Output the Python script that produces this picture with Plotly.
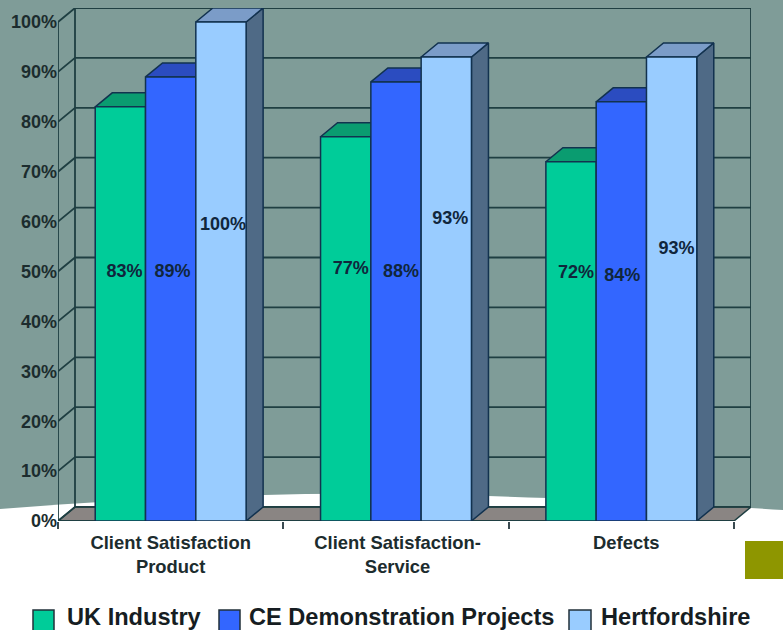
import plotly.graph_objects as go

categories = ["Client Satisfaction<br>Product", "Client Satisfaction-<br>Service", "Defects"]
uk_industry = [83, 77, 72]
ce_projects = [89, 88, 84]
hertfordshire = [100, 93, 93]
series_names = ["UK Industry", "CE Demonstration Projects", "Hertfordshire"]
y_ticks = list(range(0, 101, 10))
y_labels = [f"{v}%" for v in y_ticks]
# height (in %) at which each data label sits, per series
label_levels = [[49.8, 50.4, 49.6], [49.8, 49.8, 49.0], [59.2, 60.4, 54.4]]
# horizontal nudge of each data label, in category units
label_nudges = [[0.018, 0.022, 0.022], [0.008, 0.022, 0.004], [0.009, 0.018, 0.022]]
# horizontal nudge of each category label, in category units
category_nudges = [0.0, 0.007, 0.022]

W, H = 783, 630
LEFT, RIGHT, BOTTOM, TOP = 58, 751, 521, 8
DX = 17 / 225.33          # depth of the 3-D effect, category units
DY = 14 / 498 * 100       # depth of the 3-D effect, % units
BAR_W = 50.3 / 225.33
FONT = "Liberation Sans"
INK = "#1c2c2e"
EDGE = "#12324f"
WALL = "#1f3f42"
series = [uk_industry, ce_projects, hertfordshire]
front = ["#00cc99", "#3366ff", "#99ccff"]
top_col = ["#0a9c70", "#2b4cc0", "#7b9cc8"]
side_col = ["#008f6b", "#2447b3", "#4f6a86"]
n = len(categories)
xs = list(range(n))
xl, xr = -0.5, n - 0.5

px = lambda x: x / W
py = lambda y: 1 - y / H

fig = go.Figure()

# floor
fig.add_trace(go.Scatter(
    x=[xl, xl + DX, xr + DX, xr, xl], y=[0, DY, DY, 0, 0], mode="lines", fill="toself",
    fillcolor="#8a8583", line=dict(color=WALL, width=1.5), hoverinfo="skip", cliponaxis=False))

# walls and gridlines
wx, wy = [], []
for v in y_ticks:
    wx += [xl, xl + DX, xr + DX, None]
    wy += [v, v + DY, v + DY, None]
wx += [xl, xl, None, xl + DX, xl + DX, None, xr + DX, xr + DX, None, xl, xr, None]
wy += [0, 100, None, DY, 100 + DY, None, DY, 100 + DY, None, 0, 0, None]
fig.add_trace(go.Scatter(x=wx, y=wy, mode="lines", line=dict(color=WALL, width=1.8),
                         hoverinfo="skip", cliponaxis=False))

# top and side faces of the bars, derived from the values
for s, vals in enumerate(series):
    tx, ty, sx, sy = [], [], [], []
    for i, v in zip(xs, vals):
        x0 = i + (s - 1.5) * BAR_W
        x1 = x0 + BAR_W
        tx += [x0, x1, x1 + DX, x0 + DX, x0, None]
        ty += [v, v, v + DY, v + DY, v, None]
        sx += [x1, x1 + DX, x1 + DX, x1, x1, None]
        sy += [0, DY, v + DY, v, 0, None]
    fig.add_trace(go.Scatter(x=sx, y=sy, mode="lines", fill="toself", fillcolor=side_col[s],
                             line=dict(color=EDGE, width=1.5), hoverinfo="skip", cliponaxis=False))
    fig.add_trace(go.Scatter(x=tx, y=ty, mode="lines", fill="toself", fillcolor=top_col[s],
                             line=dict(color=EDGE, width=1.5), hoverinfo="skip", cliponaxis=False))

# front faces
for s, vals in enumerate(series):
    fig.add_trace(go.Bar(
        x=xs, y=vals, name=series_names[s], width=BAR_W, offset=(s - 1.5) * BAR_W,
        marker=dict(color=front[s], line=dict(color=EDGE, width=1.5)),
        xaxis="x2", yaxis="y2", cliponaxis=False))

# data labels
for s, vals in enumerate(series):
    fig.add_trace(go.Scatter(
        x=[i + (s - 1) * BAR_W + d for i, d in zip(xs, label_nudges[s])],
        y=label_levels[s], mode="text", text=[f"{v}%" for v in vals],
        textposition="middle center",
        textfont=dict(family=FONT, size=18, color="#10263c", weight="bold"),
        xaxis="x2", yaxis="y2", hoverinfo="skip"))

x_range = [xl, xr + DX]
y_range = [0, 100 + DY]
x_dom = [px(LEFT), px(RIGHT)]
y_dom = [py(BOTTOM), py(TOP)]

shapes = [
    dict(type="path", layer="below", xref="paper", yref="paper", line=dict(width=0), fillcolor="white",
         path=(f"M0,{py(509)} C{px(150)},{py(497)} {px(300)},{py(491)} {px(450)},{py(495)} "
               f"C{px(600)},{py(499)} {px(700)},{py(505)} 1,{py(510)} L1,0 L0,0 Z")),
    dict(type="rect", layer="below", xref="paper", yref="paper", line=dict(width=0), fillcolor="#8e9600",
         x0=px(745), x1=1, y0=py(579), y1=py(541)),
]
annotations = []
legend_items = [(33, 54, 65), (219, 240, 247), (569, 591, 599)]
for (a, b, t), name, col in zip(legend_items, series_names, front):
    shapes.append(dict(type="rect", xref="paper", yref="paper", fillcolor=col,
                       line=dict(color="#22303a", width=1.5),
                       x0=px(a), x1=px(b), y0=py(632), y1=py(610)))
    annotations.append(dict(xref="paper", yref="paper", x=px(t), y=py(617), xanchor="left", yanchor="middle",
                            text=name, showarrow=False,
                            font=dict(family=FONT, size=23.6, color="#161d22", weight="bold")))

fig.update_layout(
    width=W, height=H, margin=dict(l=0, r=0, t=0, b=0, autoexpand=False),
    paper_bgcolor="#7f9c98", plot_bgcolor="rgba(0,0,0,0)", showlegend=False,
    barmode="overlay", shapes=shapes, annotations=annotations,
    font=dict(family=FONT),
    xaxis=dict(domain=x_dom, range=x_range, tickmode="array",
               tickvals=[i + d for i, d in zip(xs, category_nudges)], ticktext=categories,
               showgrid=False, zeroline=False, showline=False, ticks="outside", ticklen=5,
               tickcolor="rgba(0,0,0,0)",
               tickfont=dict(family=FONT, size=18.4, color=INK, weight="bold"),
               minor=dict(tickmode="array", tickvals=[-0.5, 0.5, 1.5, 2.5], ticks="outside", ticklen=7,
                          tickcolor="#3a4a50", tickwidth=1.5, showgrid=False)),
    yaxis=dict(domain=y_dom, range=y_range, tickmode="array", tickvals=y_ticks, ticktext=y_labels,
               showgrid=False, zeroline=False, showline=False, ticks="",
               tickfont=dict(family=FONT, size=18, color=INK, weight="bold")),
    xaxis2=dict(domain=x_dom, range=x_range, overlaying="x", visible=False),
    yaxis2=dict(domain=y_dom, range=y_range, overlaying="y", visible=False),
)
fig.write_html("out.html", config={"displayModeBar": False},
               post_script="document.body.style.margin='0';document.body.style.overflow='hidden';")
